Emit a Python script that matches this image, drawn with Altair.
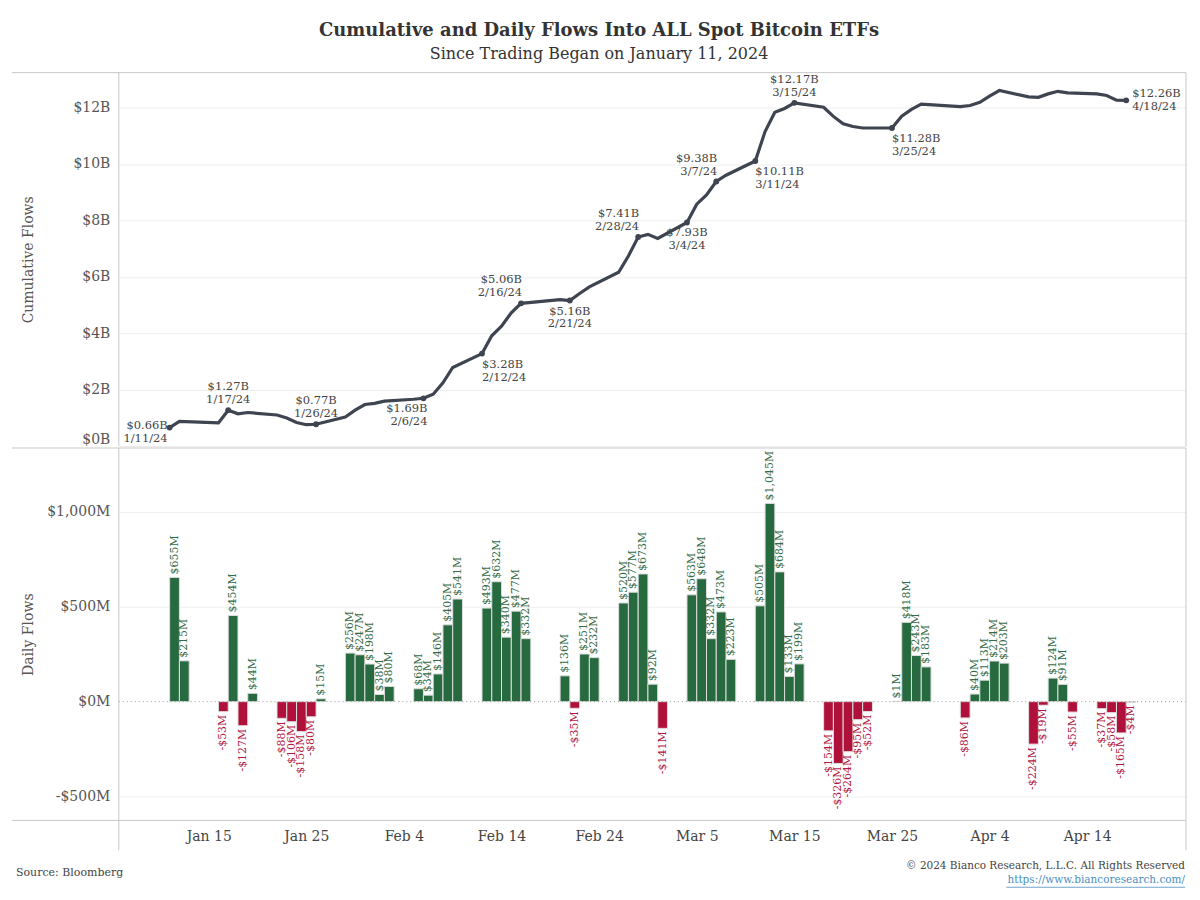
import altair as alt
import pandas as pd

# ---------------- data ----------------
dates = [
    "2024-01-11", "2024-01-12", "2024-01-16", "2024-01-17", "2024-01-18", "2024-01-19",
    "2024-01-22", "2024-01-23", "2024-01-24", "2024-01-25", "2024-01-26",
    "2024-01-29", "2024-01-30", "2024-01-31",
    "2024-02-01", "2024-02-02", "2024-02-05", "2024-02-06", "2024-02-07", "2024-02-08", "2024-02-09",
    "2024-02-12", "2024-02-13", "2024-02-14", "2024-02-15", "2024-02-16",
    "2024-02-20", "2024-02-21", "2024-02-22", "2024-02-23",
    "2024-02-26", "2024-02-27", "2024-02-28", "2024-02-29",
    "2024-03-01", "2024-03-04", "2024-03-05", "2024-03-06", "2024-03-07", "2024-03-08",
    "2024-03-11", "2024-03-12", "2024-03-13", "2024-03-14", "2024-03-15",
    "2024-03-18", "2024-03-19", "2024-03-20", "2024-03-21", "2024-03-22",
    "2024-03-25", "2024-03-26", "2024-03-27", "2024-03-28",
    "2024-04-01", "2024-04-02", "2024-04-03", "2024-04-04", "2024-04-05",
    "2024-04-08", "2024-04-09", "2024-04-10", "2024-04-11", "2024-04-12",
    "2024-04-15", "2024-04-16", "2024-04-17", "2024-04-18",
]

daily_flows_m = [
    655, 215, -53, 454, -127, 44, -88, -106, -158, -80, 15, 256, 247, 198,
    38, 80, 68, 34, 146, 405, 541, 493, 632, 340, 477, 332, 136, -35, 251, 232, 520, 577, 673, 92,
    -141, 563, 648, 332, 473, 223, 505, 1045, 684, 133, 199, -154, -326, -264, -95, -52, 1, 418, 243, 183,
    -86, 40, 113, 214, 203, -224, -19, 124, 91, -55, -37, -58, -165, -4,
]

cumulative_b = [
    0.655, 0.870, 0.817, 1.271, 1.144, 1.188, 1.100, 0.994, 0.836, 0.756, 0.771, 1.027, 1.274, 1.472,
    1.510, 1.590, 1.658, 1.692, 1.838, 2.243, 2.784, 3.277, 3.909, 4.249, 4.726, 5.058, 5.194, 5.159,
    5.410, 5.642, 6.162, 6.739, 7.412, 7.504,
    7.363, 7.926, 8.574, 8.906, 9.379, 9.602, 10.107, 11.152, 11.836, 11.969, 12.168, 12.014, 11.688,
    11.424, 11.329, 11.277, 11.278, 11.696, 11.939, 12.122,
    12.036, 12.076, 12.189, 12.403, 12.606, 12.382, 12.363, 12.487, 12.578, 12.523, 12.486, 12.428,
    12.263, 12.259,
]

label_dates = ["2024-01-11", "2024-01-17", "2024-01-26", "2024-02-06", "2024-02-12", "2024-02-16",
               "2024-02-21", "2024-02-28", "2024-03-04", "2024-03-07", "2024-03-11", "2024-03-15",
               "2024-03-25", "2024-04-18"]
label_values = ["$0.66B", "$1.27B", "$0.77B", "$1.69B", "$3.28B", "$5.06B", "$5.16B", "$7.41B",
                "$7.93B", "$9.38B", "$10.11B", "$12.17B", "$11.28B", "$12.26B"]
label_texts = ["1/11/24", "1/17/24", "1/26/24", "2/6/24", "2/12/24", "2/16/24", "2/21/24", "2/28/24",
               "3/4/24", "3/7/24", "3/11/24", "3/15/24", "3/25/24", "4/18/24"]
label_place = ["middle-right", "above-center", "above-center", "below-right", "below-left",
               "above-right", "below-center", "above-right", "below-center", "above-right",
               "below-left", "above-center", "below-left", "middle-left"]

x_tick_dates = ["2024-01-15", "2024-01-25", "2024-02-04", "2024-02-14", "2024-02-24",
                "2024-03-05", "2024-03-15", "2024-03-25", "2024-04-04", "2024-04-14"]
cum_ticks = [0, 2, 4, 6, 8, 10, 12]
flow_ticks = [-500, 0, 500, 1000]

# ---------------- tables ----------------
d = pd.to_datetime(dates)
df = pd.DataFrame({
    "date": d.strftime("%Y-%m-%dT%H:%M:%SZ"),
    "start": d.strftime("%Y-%m-%dT%H:%M:%SZ"),
    "end": (d + pd.Timedelta(days=1)).strftime("%Y-%m-%dT%H:%M:%SZ"),
    "mid": (d + pd.Timedelta(hours=12)).strftime("%Y-%m-%dT%H:%M:%SZ"),
    "flow": daily_flows_m,
    "cum": cumulative_b,
})
df["sign"] = ["pos" if v >= 0 else "neg" for v in daily_flows_m]
df["flowlabel"] = [("-" if v < 0 else "") + "$" + f"{abs(v):,}" + "M" for v in daily_flows_m]

lab = pd.DataFrame({
    "date": pd.to_datetime(label_dates).strftime("%Y-%m-%dT%H:%M:%SZ"),
    "txt": [a + "\n" + b for a, b in zip(label_values, label_texts)],
    "pos": label_place,
})
lab = lab.merge(df[["date", "cum"]], on="date", how="left")

one = pd.DataFrame({"k": [0]})

# ---------------- style ----------------
FONT = "DejaVu Serif"
W, H1, H2 = 1069, 374, 373
LINE = "#3e4450"
GREEN = "#276a40"
RED = "#b0113a"
GREEN_T = "#336b47"
RED_T = "#b3173f"
BORDER = "#c8c8c8"
AX = "#555555"
LH = 13

xscale = alt.Scale(type="utc",
                   domain=[alt.DateTime(year=2024, month=1, date=5, hours=19, utc=True),
                           alt.DateTime(year=2024, month=4, date=24, hours=3, utc=True)])

tick_dt = [alt.DateTime(year=2024, month=int(s[5:7]), date=int(s[8:10]), utc=True) for s in x_tick_dates]


def frame_rules(h, bottom_ext, top_line=True, bottom_line=False):
    layers = []
    base = alt.Chart(one)
    if top_line:
        layers.append(base.mark_rule(color=BORDER, strokeWidth=1).encode(
            x=alt.value(-107), x2=alt.value(W), y=alt.value(0)))
    if bottom_line:
        layers.append(base.mark_rule(color=BORDER, strokeWidth=1).encode(
            x=alt.value(-107), x2=alt.value(W), y=alt.value(h)))
    layers.append(base.mark_rule(color=BORDER, strokeWidth=1).encode(
        x=alt.value(0), y=alt.value(0), y2=alt.value(h + bottom_ext)))
    layers.append(base.mark_rule(color=BORDER, strokeWidth=1).encode(
        x=alt.value(W), y=alt.value(0), y2=alt.value(h + bottom_ext)))
    return layers


# ---------------- top panel ----------------
ytop = alt.Y("cum:Q", scale=alt.Scale(domain=[0, 13.24], nice=False),
             axis=alt.Axis(values=cum_ticks, labelExpr="'$' + datum.value + 'B'",
                           title="Cumulative Flows", titleX=-90, titleY=H1 / 2, titleAngle=270,
                           titleAlign="center", titleBaseline="middle",
                           titleFont=FONT, titleFontSize=14, titleFontWeight="normal", titleColor=AX,
                           labelFont=FONT, labelFontSize=14, labelColor=AX, labelPadding=9,
                           labelFlush=True, domain=False, ticks=False,
                           grid=True, gridColor="#ededed"))

line = alt.Chart(df).mark_line(color=LINE, strokeWidth=3.2).encode(
    x=alt.X("date:T", scale=xscale, axis=None), y=ytop)

pts = alt.Chart(lab).mark_circle(color=LINE, size=34, opacity=1).encode(
    x=alt.X("date:T", scale=xscale, axis=None), y=alt.Y("cum:Q"))

place_cfg = {
    "above-center": dict(align="center", baseline="bottom", dx=0, dy=-5 - LH),
    "above-right": dict(align="right", baseline="bottom", dx=1, dy=-5 - LH),
    "below-center": dict(align="center", baseline="top", dx=0, dy=5),
    "below-left": dict(align="left", baseline="top", dx=0, dy=5),
    "below-right": dict(align="right", baseline="top", dx=4, dy=5),
    "middle-right": dict(align="right", baseline="middle", dx=-2, dy=-2),
    "middle-left": dict(align="left", baseline="middle", dx=6, dy=-LH / 2),
}
label_layers = []
for key, cfg in place_cfg.items():
    label_layers.append(
        alt.Chart(lab).transform_filter(alt.datum.pos == key).mark_text(
            font=FONT, fontSize=11.5, color="#444444", lineBreak="\n", lineHeight=LH, **cfg
        ).encode(x=alt.X("date:T", scale=xscale, axis=None), y=alt.Y("cum:Q"), text="txt:N"))

top = alt.layer(line, pts, *label_layers, *frame_rules(H1, 0, top_line=True)).properties(
    width=W, height=H1)

# ---------------- bottom panel ----------------
ybot_axis = alt.Axis(values=flow_ticks,
                     labelExpr="(datum.value < 0 ? '-' : '') + '$' + format(abs(datum.value), ',') + 'M'",
                     title="Daily Flows", titleX=-90, titleY=H2 / 2, titleAngle=270,
                     titleAlign="center", titleBaseline="middle",
                     titleFont=FONT, titleFontSize=14, titleFontWeight="normal", titleColor=AX,
                     labelFont=FONT, labelFontSize=14, labelColor=AX, labelPadding=9,
                     domain=False, ticks=False, grid=True,
                     gridColor={"condition": {"test": "datum.value === 0", "value": "rgba(0,0,0,0)"},
                                "value": "#efefef"})
ybot_scale = alt.Scale(domain=[-626, 1337], nice=False)

xbot = alt.X("start:T", scale=xscale,
             axis=alt.Axis(values=tick_dt, labelExpr="utcFormat(datum.value, '%b %-d')",
                           title=None, labelFont=FONT, labelFontSize=14, labelColor="#444444",
                           labelPadding=9, domain=False, ticks=False, grid=False))

bars = alt.Chart(df).mark_bar(stroke="#dedede", strokeWidth=1).encode(
    x=xbot, x2="end:T",
    y=alt.Y("flow:Q", scale=ybot_scale, axis=ybot_axis), y2=alt.datum(0),
    color=alt.Color("sign:N", scale=alt.Scale(domain=["pos", "neg"], range=[GREEN, RED]), legend=None))

zero = alt.Chart(one).mark_rule(color="#9a9a9a", strokeDash=[1, 3], strokeWidth=1).encode(
    y=alt.datum(0))

pos_lab = alt.Chart(df).transform_filter(alt.datum.flow >= 0).mark_text(
    font=FONT, fontSize=11, color=GREEN_T, angle=270, align="left", baseline="middle", dx=3
).encode(x=alt.X("mid:T", scale=xscale), y=alt.Y("flow:Q"), text="flowlabel:N")

neg_lab = alt.Chart(df).transform_filter(alt.datum.flow < 0).mark_text(
    font=FONT, fontSize=11, color=RED_T, angle=270, align="right", baseline="middle", dx=-3
).encode(x=alt.X("mid:T", scale=xscale), y=alt.Y("flow:Q"), text="flowlabel:N")

src = alt.Chart(one).mark_text(font=FONT, fontSize=11, color="#444444", align="left",
                               baseline="middle", text="Source: Bloomberg").encode(
    x=alt.value(-103), y=alt.value(H2 + 53))
copy = alt.Chart(one).mark_text(font=FONT, fontSize=10.5, color="#444444", align="right",
                                baseline="middle",
                                text="© 2024 Bianco Research, L.L.C. All Rights Reserved").encode(
    x=alt.value(W - 1), y=alt.value(H2 + 46))
link = alt.Chart(one).mark_text(font=FONT, fontSize=10.5, color="#4b8fbf", align="right",
                                baseline="middle", text="https://www.biancoresearch.com/").encode(
    x=alt.value(W - 1), y=alt.value(H2 + 60))
underline = alt.Chart(one).mark_rule(color="#4b8fbf", strokeWidth=0.8).encode(
    x=alt.value(W - 180), x2=alt.value(W - 1), y=alt.value(H2 + 67))

bottom = alt.layer(bars, zero, pos_lab, neg_lab,
                   *frame_rules(H2, 30, top_line=True, bottom_line=True),
                   src, copy, link, underline).properties(width=W, height=H2)

chart = alt.vconcat(top, bottom, spacing=0).properties(
    title=alt.TitleParams(
        text="Cumulative and Daily Flows Into ALL Spot Bitcoin ETFs",
        subtitle="Since Trading Began on January 11, 2024",
        anchor="middle", font=FONT, fontSize=18, fontWeight="bold", color="#333333",
        subtitleFont=FONT, subtitleFontSize=16, subtitleColor="#333333", subtitlePadding=6,
        offset=10),
    padding={"left": 3, "top": 13, "right": 5, "bottom": 5},
).configure_view(stroke=None).configure_concat(spacing=0)

chart.save("out.html", embed_options={"renderer": "svg", "actions": False})
